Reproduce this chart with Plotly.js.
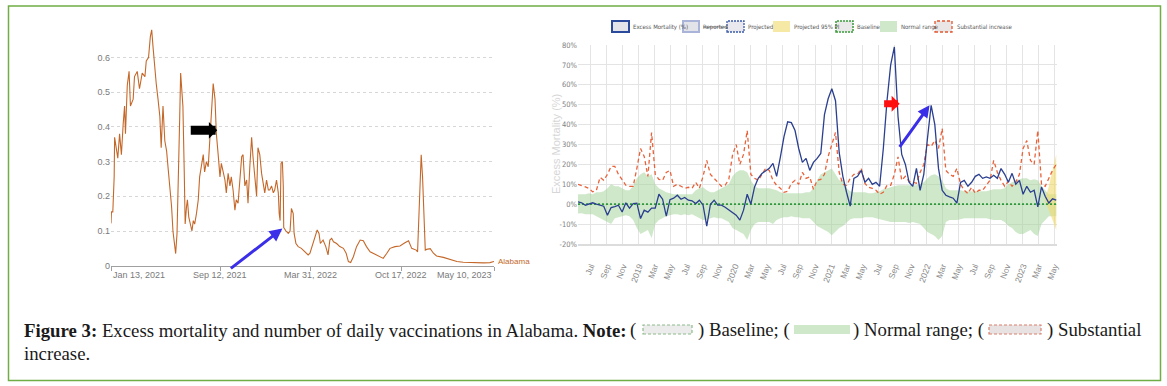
<!DOCTYPE html>
<html><head><meta charset="utf-8">
<script src="https://cdn.plot.ly/plotly-3.0.1.min.js"></script>
<style>html,body{margin:0;padding:0;background:#fff;}#chart{width:1167px;height:386px;}</style>
</head><body><div id="chart"></div>
<script>
// ---------- Left chart: daily vaccinations (Alabama) ----------
const vaxStart = '2021-01-13';
const vaxDays = [0,1,4,7,8,12,15,19,23,27,30,32,36,40,43,49,52,58,63,69,75,78,83,87,90,93,97,100,104,108,111,115,119,123,126,130,134,137,141,143,146,149,152,154,157,159,162,164,167,169,172,176,179,182,185,189,193,196,200,204,207,211,215,218,222,226,230,233,237,241,244,248,252,255,259,263,266,270,274,277,281,285,289,292,296,300,303,307,311,314,318,322,325,329,333,337,340,344,348,351,355,359,362,366,370,372,374,376,379,381,382,387,392,396,399,403,405,409,414,421,429,436,440,446,451,456,460,463,469,475,480,484,488,492,499,506,514,520,525,530,536,543,551,558,565,573,584,595,602,610,617,628,639,650,658,665,675,678,680,683,685,686,689,691,693,695,698,706,713,720,735,750,765,779,794,809,824,838,847];
const vaxValues = [0.122,0.155,0.155,0.256,0.37,0.34,0.31,0.38,0.32,0.41,0.46,0.38,0.52,0.56,0.46,0.48,0.545,0.56,0.51,0.555,0.545,0.59,0.60,0.66,0.68,0.63,0.555,0.525,0.48,0.43,0.34,0.46,0.36,0.33,0.285,0.23,0.17,0.10,0.055,0.035,0.093,0.23,0.43,0.555,0.487,0.46,0.27,0.12,0.17,0.19,0.14,0.12,0.10,0.13,0.12,0.15,0.19,0.256,0.285,0.32,0.27,0.30,0.285,0.36,0.45,0.525,0.48,0.38,0.32,0.256,0.295,0.275,0.247,0.21,0.266,0.23,0.256,0.218,0.16,0.19,0.18,0.247,0.314,0.32,0.23,0.247,0.18,0.285,0.37,0.314,0.247,0.20,0.34,0.32,0.266,0.23,0.21,0.247,0.218,0.218,0.23,0.21,0.218,0.247,0.21,0.15,0.13,0.295,0.30,0.23,0.11,0.10,0.093,0.10,0.165,0.15,0.093,0.064,0.055,0.05,0.04,0.031,0.036,0.064,0.084,0.103,0.093,0.064,0.074,0.055,0.031,0.074,0.079,0.069,0.064,0.055,0.05,0.036,0.012,0.009,0.026,0.055,0.074,0.072,0.055,0.04,0.033,0.026,0.021,0.036,0.05,0.055,0.057,0.066,0.072,0.05,0.045,0.04,0.10,0.21,0.285,0.32,0.256,0.17,0.093,0.045,0.047,0.049,0.036,0.028,0.024,0.018,0.012,0.01,0.009,0.008,0.008,0.009,0.012];
const vaxTickDates = ['2021-01-13','2021-09-12','2022-03-31','2022-10-17','2023-05-10'];
const vaxTickLabels = ['Jan 13, 2021','Sep 12, 2021','Mar 31, 2022','Oct 17, 2022','May 10, 2023'];
const vaxYTicks = [0,0.1,0.2,0.3,0.4,0.5,0.6];
const vaxYLabels = ['0','0.1','0.2','0.3','0.4','0.5','0.6'];
const vaxSeriesName = 'Alabama';

// ---------- Right chart: excess mortality (%), biweekly ----------
const mortStart = '2018-05-14';
const mortStepDays = 14;
const excessMortality = [1.2,0.7,-0.5,0,0.7,0,-0.5,-1,-5.5,-1.7,-1.2,-0.5,-3.9,0.7,-2,0.3,0.5,-7.2,-3,-4,-2,-2,5,2.5,-6,2.3,3,4.5,2.5,3.4,2,1.7,0.3,2,-0.5,-11,0,2,-0.5,-0.5,-1.5,-2.7,-3.9,-5.5,-8,-3,5,0,8.7,13,15.4,16.5,18,20.5,14,23.5,34,41.4,41,37,28,21,23,17,21,23,25.5,45,53,58,52,26,14,6,-1,13,14,17,11,13,10,11,9,28,52,70,79,44,25,20,11,9,18,7,15,33,49.7,40,18,7,4.5,3.7,3,0.5,11,12,9,11,14,15,13,13.7,13,14.5,13,17.9,15,11,15.5,10,12,5,9,6,7,-1.3,8.7,4,0.6,2.7,2];
const substantialIncrease = [10,9.5,8.7,7.9,6.2,7,13.5,12,15,19,19,15,12,9.5,9,9,18,28,24,14,36,15,12.5,12,16,17,9,10,9,8,8.5,8,11,8,14,22,15,13,11,9,9.5,12.5,24.6,30,20,25,37,15,13,12,15,18,17,12,9.5,8,6,6.5,10.4,12,10,16,13,13.7,7.5,12,12.5,15,24,30,36,16,10,9.5,13,15,15,18,10.4,8.5,8,7,5,6,9.5,9.5,15,23.8,12,14,11.5,11,10.5,16,20,30,29,32,28,38,17,15,14,18,10,7,5.4,8.5,5.5,7,7,9.5,12,22,16,12,9,11.5,9,11,15,28,32,22,20,37,10,9,13,17,20];
const normalUpper = [5,5,5,5.5,5,6,6,6.5,8,10,9,9,8,7,7,9,13,15,16,14,15,10,8,7,6,5.5,5,5,5,5,5,5,7,8,8.5,7,6,6,7,8,9,10,14,16,17,17,16,12,9,8,8,8,8,7.5,7,6,5.5,5.5,5.5,5.5,5.5,5.5,6,6,8,12,15,16,17,18,15,12,12,8,6.5,6,6,6,6,5.5,5.5,6,6.5,7.5,8,8.5,9,9.5,9.5,9.5,9.5,9.5,9.5,10,11,13,14.5,15,14,12,8,7,7,7,7,6.5,6.5,6.5,6.5,6.5,6.5,6.5,7,7.5,7.5,7.5,8,10,11,12,12.5,13,13,12,12.5,12,9,7,5,5,5];
const normalLower = [-4.7,-4.5,-5,-5,-5,-6,-7,-8,-9,-10,-7,-6.5,-6,-5.5,-6,-8,-12,-15,-14,-13,-17,-10,-8,-7,-6,-5.5,-5,-5,-5.5,-5,-5.5,-5,-6,-7,-8,-8,-7,-6.5,-7,-7,-8,-9,-12,-13,-14,-15,-18,-13,-10,-9,-9,-9,-9,-10,-8,-7,-6.5,-6.5,-6,-6.5,-6.5,-7,-7,-7,-9,-11,-12,-13,-14,-15.6,-14,-12,-11,-9,-7.5,-7,-7,-7,-6.5,-6.5,-6.5,-7,-7.5,-8,-8.5,-9,-9,-9,-9,-9,-9.5,-9,-9.5,-10,-12,-14,-15,-16,-18,-16,-9,-8,-8,-8,-7.5,-7,-7,-7,-7,-7,-7,-7,-7.5,-8,-8,-8,-9,-11,-12,-14,-15,-15,-14,-13,-15,-16,-10,-8,-6,-6,-6];
const projectedUpper = [3,9,17,25];   // last four periods
const projectedLower = [1,-3,-8,-13];
const baselineValue = 0;
const mortTickDates = ['2018-07-01','2018-09-01','2018-11-01','2019-01-01','2019-03-01','2019-05-01','2019-07-01','2019-09-01','2019-11-01','2020-01-01','2020-03-01','2020-05-01','2020-07-01','2020-09-01','2020-11-01','2021-01-01','2021-03-01','2021-05-01','2021-07-01','2021-09-01','2021-11-01','2022-01-01','2022-03-01','2022-05-01','2022-07-01','2022-09-01','2022-11-01','2023-01-01','2023-03-01','2023-05-01'];
const mortTickLabels = ['Jul','Sep','Nov','2019','Mar','May','Jul','Sep','Nov','2020','Mar','May','Jul','Sep','Nov','2021','Mar','May','Jul','Sep','Nov','2022','Mar','May','Jul','Sep','Nov','2023','Mar','May'];
const mortYTicks = [-20,-10,0,10,20,30,40,50,60,70,80];
const mortYLabels = ['-20%','-10%','0%','10%','20%','30%','40%','50%','60%','70%','80%'];
const legendLabels = ['Excess Mortality (%)','Reported','Projected','Projected 95% PI','Baseline','Normal range','Substantial increase'];

// ---------- helpers ----------
function addDays(iso, n){ const d = new Date(iso + 'T00:00:00Z'); d.setUTCDate(d.getUTCDate() + n); return d.toISOString().slice(0,10); }
const W = 1167, H = 386;
const fx = x => x / W, fy = y => 1 - y / H;

const vaxDates = vaxDays.map(d => addDays(vaxStart, d));
const mortDates = excessMortality.map((_, i) => addDays(mortStart, i * mortStepDays));
const projDates = mortDates.slice(mortDates.length - projectedUpper.length);

const NARROW = 'Liberation Sans Narrow, Arial Narrow, DejaVu Sans Condensed, Liberation Sans, Arial, sans-serif';
const SANS = 'Liberation Sans, Arial, sans-serif';
const SERIF = 'Liberation Serif, Times New Roman, serif';
const ORANGE = '#c4682a';

const traces = [
  {x: vaxDates, y: vaxValues, type:'scatter', mode:'lines', xaxis:'x', yaxis:'y',
   line:{color: ORANGE, width:1.1}, name: vaxSeriesName, hoverinfo:'skip'},
  {x: mortDates, y: normalLower, type:'scatter', mode:'lines', xaxis:'x2', yaxis:'y2',
   line:{width:0, color:'rgba(0,0,0,0)'}, hoverinfo:'skip'},
  {x: mortDates, y: normalUpper, type:'scatter', mode:'lines', xaxis:'x2', yaxis:'y2', fill:'tonexty',
   fillcolor:'rgba(160,210,150,0.5)', line:{width:0, color:'rgba(0,0,0,0)'}, name:'Normal range', hoverinfo:'skip'},
  {x: projDates, y: projectedLower, type:'scatter', mode:'lines', xaxis:'x2', yaxis:'y2',
   line:{width:0, color:'rgba(0,0,0,0)'}, hoverinfo:'skip'},
  {x: projDates, y: projectedUpper, type:'scatter', mode:'lines', xaxis:'x2', yaxis:'y2', fill:'tonexty',
   fillcolor:'rgba(240,218,110,0.6)', line:{width:0, color:'rgba(0,0,0,0)'}, name:'Projected 95% PI', hoverinfo:'skip'},
  {x: [mortDates[0], mortDates[mortDates.length-1]], y: [baselineValue, baselineValue], type:'scatter', mode:'lines',
   xaxis:'x2', yaxis:'y2', line:{color:'#2f9a3c', width:1.8, dash:'2px,2px'}, name:'Baseline', hoverinfo:'skip'},
  {x: mortDates, y: substantialIncrease, type:'scatter', mode:'lines', xaxis:'x2', yaxis:'y2',
   line:{color:'#e8623a', width:1.3, dash:'4px,3px'}, name:'Substantial increase', hoverinfo:'skip'},
  {x: mortDates, y: excessMortality, type:'scatter', mode:'lines', xaxis:'x2', yaxis:'y2',
   line:{color:'#2a3f8f', width:1.3}, name:'Excess Mortality (%)', hoverinfo:'skip'}
];

const shapes = [
  {type:'rect', xref:'paper', yref:'paper', x0:fx(8.5), x1:fx(1160.5), y0:fy(380.5), y1:fy(6), line:{color:'#70ad47', width:1.5}, fillcolor:'rgba(0,0,0,0)', layer:'below'}
];
const legendBoxes = [
  {x0:612, x1:629, fill:'#e3e4ea', line:{color:'#2b4a9b', width:2}},
  {x0:683, x1:699, fill:'#e3e4ea', line:{color:'#aab4d8', width:2}},
  {x0:727, x1:744, fill:'#e8e8ee', line:{color:'#3a5aa8', width:1.3, dash:'2px,1px'}},
  {x0:773, x1:790, fill:'#f6e9a6', line:{width:0}},
  {x0:836, x1:853, fill:'#e9e9e9', line:{color:'#3a9a3a', width:1.5, dash:'2px,1px'}},
  {x0:880, x1:897, fill:'#cfe8c9', line:{width:0}},
  {x0:935, x1:952, fill:'#ebe6e6', line:{color:'#e4572e', width:1.3, dash:'3px,2px'}}
];
const legendTextX = [631, 701, 746, 792, 855, 899, 955];
legendBoxes.forEach(b => shapes.push({type:'rect', xref:'paper', yref:'paper', x0:fx(b.x0), x1:fx(b.x1), y0:fy(32), y1:fy(21), fillcolor:b.fill, line:b.line}));
shapes.push({type:'rect', xref:'paper', yref:'paper', x0:fx(643), x1:fx(692), y0:fy(334), y1:fy(325), fillcolor:'#ececec', line:{color:'#8cbc8c', width:1.2, dash:'3px,2px'}});
shapes.push({type:'rect', xref:'paper', yref:'paper', x0:fx(794), x1:fx(850), y0:fy(334), y1:fy(325), fillcolor:'#cfe8c9', line:{width:0}});
shapes.push({type:'rect', xref:'paper', yref:'paper', x0:fx(989), x1:fx(1041), y0:fy(334), y1:fy(325), fillcolor:'#e9e2e2', line:{color:'#d9806f', width:1.2, dash:'3px,2px'}});

const annotations = [];
const vaxAnchors = ['left','center','center','center','right'];
vaxTickDates.forEach((d,i) => annotations.push({x:d, y:0, xref:'x', yref:'y', text:vaxTickLabels[i], showarrow:false,
  xanchor:vaxAnchors[i], yanchor:'top', yshift:-2, font:{family:SANS, size:9, color:'#7a7a7a'}}));
annotations.push({x:vaxDates[vaxDates.length-1], y:vaxValues[vaxValues.length-1], xref:'x', yref:'y', text:vaxSeriesName,
  showarrow:false, xanchor:'left', yanchor:'middle', xshift:2, font:{family:SANS, size:8, color:ORANGE}});
annotations.push({x:addDays(vaxStart,235), y:0.39, xref:'x', yref:'y', ax:-28, ay:0, text:'', showarrow:true,
  arrowhead:1, arrowsize:0.31, arrowwidth:9, arrowcolor:'#000', standoff:0});
annotations.push({x:addDays(vaxStart,379), y:0.107, xref:'x', yref:'y', ax:-53, ay:41, text:'', showarrow:true,
  arrowhead:2, arrowsize:0.85, arrowwidth:3, arrowcolor:'#3a2ee8', standoff:0});
annotations.push({x:'2021-09-19', y:50.5, xref:'x2', yref:'y2', ax:-17, ay:0, text:'', showarrow:true,
  arrowhead:1, arrowsize:0.38, arrowwidth:7, arrowcolor:'#ff1010', standoff:0});
annotations.push({x:'2022-01-11', y:49.7, xref:'x2', yref:'y2', ax:-31, ay:43, text:'', showarrow:true,
  arrowhead:2, arrowsize:0.8, arrowwidth:3, arrowcolor:'#3a2ee8', standoff:0});
annotations.push({x:fx(556), y:fy(144), xref:'paper', yref:'paper', text:'Excess Mortality (%)', textangle:-90,
  showarrow:false, xanchor:'center', yanchor:'middle', font:{family:SANS, size:11, color:'#d6d6d6'}});
legendLabels.forEach((t,i) => annotations.push({x:fx(legendTextX[i]), y:fy(26.5), xref:'paper', yref:'paper',
  text: t === 'Reported' ? '<s>Reported</s>' : t, showarrow:false, xanchor:'left', yanchor:'middle',
  font:{family:NARROW, size:6, color:'#555'}}));
const capFont = {family:SERIF, size:18.8, color:'#1a1a1a'};
const capPieces = [
  {x:22, y:330, t:'<b>Figure 3:</b> Excess mortality and number of daily vaccinations in Alabama. <b>Note:</b>', a:'left'},
  {x:638, y:330, t:'(', a:'right'},
  {x:696, y:330, t:') Baseline; (', a:'left'},
  {x:851, y:330, t:') Normal range; (', a:'left'},
  {x:1045, y:330, t:') Substantial', a:'left'},
  {x:22, y:353, t:'increase.', a:'left'}
];
capPieces.forEach(p => annotations.push({x:fx(p.x), y:fy(p.y), xref:'paper', yref:'paper', text:p.t, showarrow:false,
  xanchor:p.a, yanchor:'middle', font:capFont}));

const layout = {
  width:W, height:H, margin:{l:0, r:0, t:0, b:0}, paper_bgcolor:'#ffffff', plot_bgcolor:'rgba(0,0,0,0)', showlegend:false,
  xaxis:{domain:[fx(111), fx(494)], range:['2021-01-13','2023-05-10'], type:'date', anchor:'y', showgrid:false,
    showline:true, linecolor:'#a0a0a0', linewidth:1, ticks:'outside', ticklen:4, tickcolor:'#a0a0a0',
    tickvals:vaxTickDates, showticklabels:false, zeroline:false},
  yaxis:{domain:[fy(265.7), fy(22.8)], range:[0,0.7], anchor:'x', tickvals:vaxYTicks, ticktext:vaxYLabels,
    showgrid:true, gridcolor:'#d6d6d6', griddash:'dot', gridwidth:1, zeroline:false, showline:false, ticks:'',
    tickfont:{family:SANS, size:9, color:'#7a7a7a'}},
  xaxis2:{domain:[fx(578), fx(1057)], range:['2018-05-14','2023-05-11'], type:'date', anchor:'y2',
    tickvals:mortTickDates, ticktext:mortTickLabels, tickangle:-70, showgrid:true, gridcolor:'#e4e4e4', gridwidth:1,
    showline:true, linecolor:'#dcdcdc', linewidth:2, ticks:'outside', ticklen:12, tickcolor:'rgba(0,0,0,0)',
    zeroline:false, tickfont:{family:SANS, size:8.5, color:'#8a8a8a'}},
  yaxis2:{domain:[fy(244), fy(45)], range:[-20,80], anchor:'x2', tickvals:mortYTicks, ticktext:mortYLabels,
    showgrid:true, gridcolor:'#e4e4e4', gridwidth:1, zeroline:false, showline:false, ticks:'',
    tickfont:{family:NARROW, size:7.5, color:'#808080'}},
  shapes:shapes, annotations:annotations
};

Plotly.newPlot('chart', traces, layout, {staticPlot:true, displayModeBar:false});
</script>
</body></html>
